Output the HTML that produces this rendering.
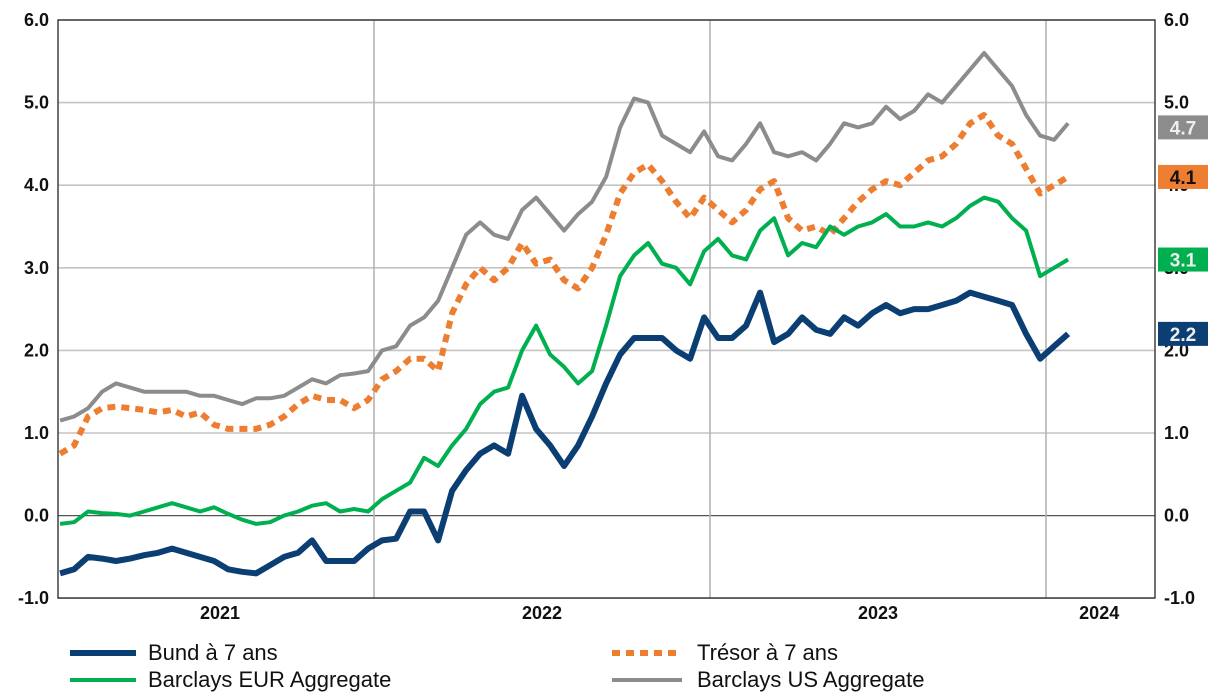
<!DOCTYPE html>
<html><head><meta charset="utf-8"><style>
html,body{margin:0;padding:0;background:#fff;}
svg{display:block;font-family:"Liberation Sans",Arial,sans-serif;}
</style></head><body>
<svg id="chart" width="1218" height="700" viewBox="0 0 1218 700" xmlns="http://www.w3.org/2000/svg">
<g id="grid"></g>
<g id="series"></g>
<g id="axes"></g>
<g id="legend">
  <line x1="70" y1="653" x2="136" y2="653" stroke="#0b3f73" stroke-width="6"/>
  <text x="148" y="660" font-size="22" fill="#111">Bund à 7 ans</text>
  <line x1="612" y1="653" x2="682" y2="653" stroke="#ed7d31" stroke-width="6" stroke-dasharray="8,6"/>
  <text x="697" y="660" font-size="22" fill="#111">Trésor à 7 ans</text>
  <line x1="70" y1="680" x2="136" y2="680" stroke="#00b050" stroke-width="4"/>
  <text x="148" y="687" font-size="22" fill="#111">Barclays EUR Aggregate</text>
  <line x1="612" y1="680" x2="682" y2="680" stroke="#8c8c8c" stroke-width="4"/>
  <text x="697" y="687" font-size="22" fill="#111">Barclays US Aggregate</text>
</g>
</svg>
<script>
const yTicks = [-1, 0, 1, 2, 3, 4, 5, 6];
const yearLabels = ["2021", "2022", "2023", "2024"];
const yearLabelMonths = [6.5, 18, 30, 37.9];
const yearBoundaryMonths = [12, 24, 36];
const startMonth = 0.79;
const stepMonth = 0.5;
const bund = [-.7,-.65,-.5,-.52,-.55,-.52,-.48,-.45,-.4,-.45,-.5,-.55,-.65,-.68,-.7,-.6,-.5,-.45,-.3,-.55,-.55,-.55,-.4,-.3,-.28,.05,.05,-.3,.3,.55,.75,.85,.75,1.45,1.05,.85,.6,.85,1.2,1.6,1.95,2.15,2.15,2.15,2.0,1.9,2.4,2.15,2.15,2.3,2.7,2.1,2.2,2.4,2.25,2.2,2.4,2.3,2.45,2.55,2.45,2.5,2.5,2.55,2.6,2.7,2.65,2.6,2.55,2.2,1.9,2.05,2.2];
const tresor = [.75,.85,1.2,1.3,1.32,1.3,1.28,1.25,1.28,1.2,1.25,1.1,1.05,1.05,1.05,1.1,1.2,1.35,1.45,1.4,1.4,1.3,1.4,1.65,1.75,1.9,1.9,1.75,2.45,2.8,3.0,2.85,3.0,3.3,3.05,3.1,2.85,2.75,3.0,3.4,3.9,4.15,4.25,4.05,3.8,3.6,3.85,3.7,3.55,3.7,3.95,4.05,3.6,3.45,3.5,3.4,3.6,3.8,3.95,4.05,4.0,4.15,4.3,4.35,4.5,4.75,4.85,4.6,4.5,4.2,3.9,4.0,4.1];
const eurAgg = [-.1,-.08,.05,.03,.02,0,.05,.1,.15,.1,.05,.1,.02,-.05,-.1,-.08,0,.05,.12,.15,.05,.08,.05,.2,.3,.4,.7,.6,.85,1.05,1.35,1.5,1.55,2.0,2.3,1.95,1.8,1.6,1.75,2.3,2.9,3.15,3.3,3.05,3.0,2.8,3.2,3.35,3.15,3.1,3.45,3.6,3.15,3.3,3.25,3.5,3.4,3.5,3.55,3.65,3.5,3.5,3.55,3.5,3.6,3.75,3.85,3.8,3.6,3.45,2.9,3.0,3.1];
const usAgg = [1.15,1.2,1.3,1.5,1.6,1.55,1.5,1.5,1.5,1.5,1.45,1.45,1.4,1.35,1.42,1.42,1.45,1.55,1.65,1.6,1.7,1.72,1.75,2.0,2.05,2.3,2.4,2.6,3.0,3.4,3.55,3.4,3.35,3.7,3.85,3.65,3.45,3.65,3.8,4.1,4.7,5.05,5.0,4.6,4.5,4.4,4.65,4.35,4.3,4.5,4.75,4.4,4.35,4.4,4.3,4.5,4.75,4.7,4.75,4.95,4.8,4.9,5.1,5.0,5.2,5.4,5.6,5.4,5.2,4.85,4.6,4.55,4.75];
const endLabels = ["4.7", "4.1", "3.1", "2.2"];
const endValues = [4.7, 4.1, 3.1, 2.2];

const NS = "http://www.w3.org/2000/svg";
const L = 58, R = 1155, T = 20, B = 598;
function yScale(v){ return 515.6 - v * 82.6; }
function xScale(m){ return 374 + (m - 12) * 28; }
function mk(tag, attrs, parent){ const e = document.createElementNS(NS, tag); for (const k in attrs) e.setAttribute(k, attrs[k]); parent.appendChild(e); return e; }

const grid = document.getElementById('grid');
const axes = document.getElementById('axes');
yTicks.forEach(v => {
  const y = yScale(v);
  const gl = mk('line', {x1: L, x2: R, y1: y, y2: y, stroke: v === 0 ? '#555' : '#c4c4c4', 'stroke-width': v === 0 ? 1.3 : 1.6}, grid);
  
  
  const t1 = mk('text', {x: 49, y: y + 6, 'text-anchor': 'end', 'font-size': 18, 'font-weight': 'bold', fill: '#111'}, axes);
  t1.textContent = v.toFixed(1);
  
  
  const t2 = mk('text', {x: 1164, y: y + 6, 'font-size': 18, 'font-weight': 'bold', fill: '#111'}, axes);
  t2.textContent = v.toFixed(1);
  
  
});
yearBoundaryMonths.forEach(m => {
  const x = xScale(m);
  const vl = mk('line', {x1: x, x2: x, y1: T, y2: B, stroke: '#b4b4b4', 'stroke-width': 1.6}, grid);
  
  
});
yearLabels.forEach((lab, i) => {
  const t = mk('text', {x: xScale(yearLabelMonths[i]), y: 619, 'text-anchor': 'middle', 'font-size': 18, 'font-weight': 'bold', fill: '#111'}, axes);
  t.textContent = lab;
  
  
});
const frame = mk('rect', {x: L, y: T, width: R - L, height: B - T, fill: 'none', stroke: '#333', 'stroke-width': 1.4}, axes);



const sg = document.getElementById('series');
function drawSeries(vals, name, color, width, dash){
  const pts = vals.map((v, i) => xScale(startMonth + i * stepMonth).toFixed(1) + ',' + yScale(v).toFixed(1)).join(' ');
  const p = mk('polyline', {points: pts, fill: 'none', stroke: color, 'stroke-width': width, 'stroke-linejoin': 'round'}, sg);
  if (dash) p.setAttribute('stroke-dasharray', dash);
  
  
}
drawSeries(usAgg, 'series-barclays-us', '#8c8c8c', 4);
drawSeries(tresor, 'series-tresor-7y', '#ed7d31', 6, '8,6');
drawSeries(eurAgg, 'series-barclays-eur', '#00b050', 4);
drawSeries(bund, 'series-bund-7y', '#0b3f73', 6);

const boxColors = ['#8c8c8c', '#ed7d31', '#00b050', '#0b3f73'];
const textColors = ['#eee', '#111', '#eee', '#eee'];
endValues.forEach((v, i) => {
  const y = yScale(v);
  const r = mk('rect', {x: 1158, y: y - 12, width: 50, height: 24, fill: boxColors[i]}, axes);
  
  
  const t = mk('text', {x: 1183, y: y + 7, 'text-anchor': 'middle', 'font-size': 19, 'font-weight': 'bold', fill: textColors[i]}, axes);
  t.textContent = endLabels[i];
  
  
});
</script>
</body></html>
